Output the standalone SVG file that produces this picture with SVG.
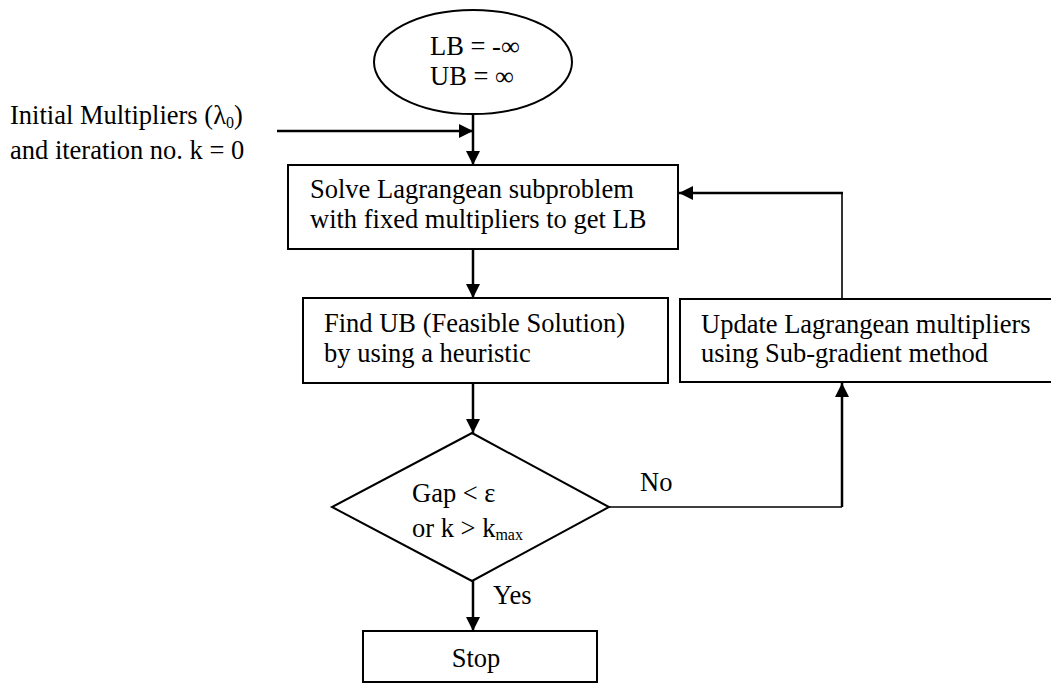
<svg xmlns="http://www.w3.org/2000/svg" width="1051" height="683" viewBox="0 0 1051 683">
<defs>
<style>
.t{font-family:"Liberation Serif","Times New Roman",serif;font-size:26.5px;fill:#000}
.s{font-size:16px}
.n{fill:#fff;stroke:#000;stroke-width:2}
.c{fill:none;stroke:#000;stroke-width:2.5}
.c1{fill:none;stroke:#000;stroke-width:1.6}
</style>
<marker id="ah" viewBox="0 0 10 10" refX="10" refY="5" markerWidth="14" markerHeight="14" markerUnits="userSpaceOnUse" orient="auto">
<path d="M0,0 L10,5 L0,10 z" fill="#000"/>
</marker>
</defs>
<rect width="1051" height="683" fill="#fff"/>
<g id="connectors">
<line class="c" x1="473" y1="114" x2="473" y2="165" marker-end="url(#ah)"/>
<line class="c" x1="277" y1="131" x2="473" y2="131" marker-end="url(#ah)"/>
<line class="c" x1="473" y1="249" x2="473" y2="298" marker-end="url(#ah)"/>
<line class="c" x1="473" y1="383" x2="473" y2="433" marker-end="url(#ah)"/>
<line class="c" x1="473" y1="581" x2="473" y2="631" marker-end="url(#ah)"/>
<polyline class="c1" points="609,507 842,507"/>
<line class="c" x1="842" y1="507" x2="842" y2="383" marker-end="url(#ah)"/>
<polyline class="c1" points="842,299 842,193"/>
<line class="c" x1="843" y1="193" x2="679" y2="193" marker-end="url(#ah)"/>
</g>
<g id="start">
<ellipse class="n" cx="473" cy="62" rx="99" ry="52"/>
<text class="t" x="430" y="55">LB = -∞</text>
<text class="t" x="430" y="85">UB = ∞</text>
</g>
<g id="init">
<text class="t" x="10" y="124">Initial Multipliers (λ<tspan class="s" dy="4">0</tspan><tspan dy="-4">)</tspan></text>
<text class="t" x="10" y="159">and iteration no. k = 0</text>
</g>
<g id="solve">
<rect class="n" x="288" y="165" width="390" height="84"/>
<text class="t" x="310" y="198">Solve Lagrangean subproblem</text>
<text class="t" x="310" y="228">with fixed multipliers to get LB</text>
</g>
<g id="findub">
<rect class="n" x="303" y="298" width="365" height="85"/>
<text class="t" x="324" y="332">Find UB (Feasible Solution)</text>
<text class="t" x="324" y="362">by using a heuristic</text>
</g>
<g id="update">
<rect class="n" x="680" y="299" width="380" height="83"/>
<text class="t" x="701" y="333">Update Lagrangean multipliers</text>
<text class="t" x="701" y="362">using Sub-gradient method</text>
</g>
<g id="decision">
<polygon class="n" points="472,433 609,507 472,581 332,507"/>
<text class="t" x="412" y="502">Gap &lt; ε</text>
<text class="t" x="412" y="537">or k &gt; k<tspan class="s" dy="3">max</tspan></text>
</g>
<g id="stop">
<rect class="n" x="363" y="631" width="234" height="51"/>
<text class="t" x="476" y="667" text-anchor="middle">Stop</text>
</g>
<g id="labels">
<text class="t" x="640" y="491">No</text>
<text class="t" x="493" y="604">Yes</text>
</g>
</svg>
